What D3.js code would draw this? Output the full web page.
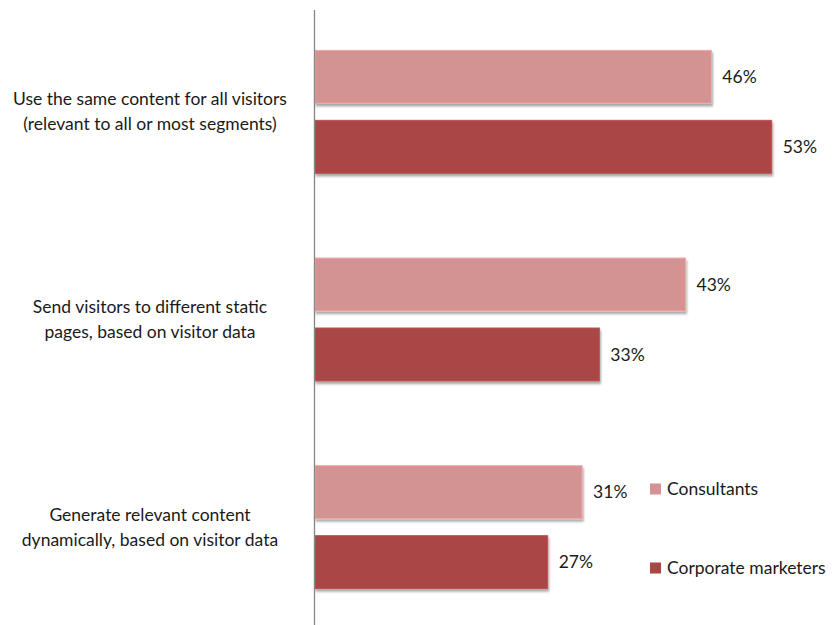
<!DOCTYPE html>
<html><head><meta charset="utf-8">
<script src="https://cdn.jsdelivr.net/npm/d3@7"></script>
<style>body{margin:0;background:#fff}svg{display:block}text{font-family:Lato,"Open Sans",sans-serif;fill:#1a1a1a}</style>
</head><body>
<svg id="chart" width="833" height="625"></svg>
<script>
const categories = [
  ["Use the same content for all visitors", "(relevant to all or most segments)"],
  ["Send visitors to different static", "pages, based on visitor data"],
  ["Generate relevant content", "dynamically, based on visitor data"]
];
const seriesNames = ["Consultants", "Corporate marketers"];
const consultants = [46, 43, 31];
const corporate = [53, 33, 27];
const colors = ["#d39392", "#a84745"];

const svg = d3.select("#chart");
const defs = svg.append("defs");
const f = defs.append("filter").attr("id","sh").attr("x","-5%").attr("y","-20%").attr("width","115%").attr("height","160%");
f.append("feDropShadow").attr("dx",1).attr("dy",2.5).attr("stdDeviation",1.3).attr("flood-color","#000").attr("flood-opacity",0.35);

const x = d3.scaleLinear().domain([0, 60]).range([315, 832]);
const y = d3.scaleBand().domain(d3.range(categories.length)).range([8, 631]).paddingInner(0).paddingOuter(0);
const inner = d3.scaleBand().domain([0,1]).range([0, y.bandwidth()]).paddingInner(0.243).paddingOuter(0.605);

const series = [consultants, corporate];
series.forEach((vals, s) => {
  const g = svg.append("g");
  vals.forEach((v, i) => {
    const yy = y(i) + inner(s);
    g.append("rect").attr("x", x(0)).attr("y", yy).attr("width", x(v) - x(0)).attr("height", inner.bandwidth())
      .attr("fill", colors[s]).attr("stroke", d3.color(colors[s]).brighter(0.4)).attr("stroke-width", 1).attr("filter","url(#sh)");
    g.append("text").attr("x", x(v) + 11).attr("y", yy + inner.bandwidth()/2).attr("dy","0.35em")
      .attr("font-size", 17.5).text(v + "%");
  });
});

// axis
svg.append("line").attr("x1", 314.5).attr("x2", 314.5).attr("y1", y.range()[0]+2).attr("y2", y.range()[1])
  .attr("stroke", "#868686").attr("stroke-width", 1.3);

// category labels
categories.forEach((lines, i) => {
  const cy = y(i) + y.bandwidth()/2;
  const t = svg.append("text").attr("text-anchor","middle").attr("font-size", 17.5);
  lines.forEach((l, k) => t.append("tspan").attr("x", 150).attr("y", cy + (k - 0.5) * 25).attr("dy","0.35em").text(l));
});

// legend
const legY = [489, 568];
seriesNames.forEach((n, s) => {
  svg.append("rect").attr("x", 650).attr("y", legY[s] - 5.5).attr("width", 11).attr("height", 11).attr("fill", colors[s]);
  svg.append("text").attr("x", 667).attr("y", legY[s]).attr("dy","0.35em").attr("font-size", 17.5).text(n);
});
</script>
</body></html>
